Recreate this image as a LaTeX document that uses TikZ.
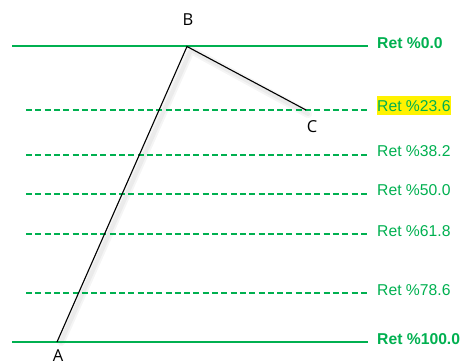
\documentclass[tikz,border=0pt]{standalone}
\usepackage{fontspec}
\setmainfont{Liberation Sans}
\newfontfamily\ptfont{Open Sans}
\definecolor{retgreen}{RGB}{0,176,80}
\begin{document}
\begin{tikzpicture}[x=1pt,y=-1pt,
  solidlvl/.style={draw=retgreen,line width=2pt},
  dashlvl/.style={draw=retgreen,line width=1.3pt,dash pattern=on 6pt off 3.3pt},
  lvllabel/.style={anchor=west,inner sep=0pt,text=retgreen,font=\fontsize{15.7}{18}\selectfont,text height=11.2pt,text depth=0pt},
  ptlabel/.style={inner sep=0pt,font=\ptfont\fontsize{16.5}{19}\selectfont},
  wave/.style={draw=black,line width=1.1pt},
  shade1/.style={draw=black!8,line width=4pt,line cap=round},
  shade2/.style={draw=black!4,line width=8pt,line cap=round}]
\useasboundingbox (0,0) rectangle (461,363);
% levels
\coordinate (l0s) at (12,46.5);   \coordinate (l0e) at (368,46.5);
\coordinate (l1s) at (26,110);    \coordinate (l1e) at (368,110);
\coordinate (l2s) at (26,155);    \coordinate (l2e) at (368,155);
\coordinate (l3s) at (26,194);    \coordinate (l3e) at (368,194);
\coordinate (l4s) at (26,234);    \coordinate (l4e) at (368,234);
\coordinate (l5s) at (26,293);    \coordinate (l5e) at (368,293);
\coordinate (l6s) at (12,342);    \coordinate (l6e) at (368,342);
% wave points
\coordinate (A) at (57,342);
\coordinate (B) at (187,46.5);
\coordinate (C) at (306,110);
\coordinate (As) at (61,342);
\coordinate (Bs) at (191,50);
\coordinate (Cs) at (308,114);
% shadow
\draw[shade2] (As) -- (Bs) -- (Cs);
\draw[shade1] (As) -- (Bs) -- (Cs);
% level lines
\draw[solidlvl] (l0s) -- (l0e);
\draw[dashlvl] (l1s) -- (l1e);
\draw[dashlvl] (l2s) -- (l2e);
\draw[dashlvl] (l3s) -- (l3e);
\draw[dashlvl] (l4s) -- (l4e);
\draw[dashlvl] (l5s) -- (l5e);
\draw[solidlvl] (l6s) -- (l6e);
% wave
\draw[wave] (A) -- (B) -- (C);
% labels
\node[lvllabel,font=\bfseries\fontsize{15.7}{18}\selectfont] (t0) at (377,43) {Ret \%0.0};
\node[lvllabel,fill=yellow,inner ysep=4.2pt] (t1) at (377,105.5) {Ret \%23.6};
\node[lvllabel] (t2) at (377,151) {Ret \%38.2};
\node[lvllabel] (t3) at (377,190) {Ret \%50.0};
\node[lvllabel] (t4) at (377,230.5) {Ret \%61.8};
\node[lvllabel] (t5) at (377,289.5) {Ret \%78.6};
\node[lvllabel,font=\bfseries\fontsize{15.7}{18}\selectfont] (t6) at (377,338.7) {Ret \%100.0};
\node[ptlabel] (nB) at (188,20) {B};
\node[ptlabel] (nC) at (312,126.5) {C};
\node[ptlabel] (nA) at (58,355.5) {A};
\end{tikzpicture}
\end{document}
